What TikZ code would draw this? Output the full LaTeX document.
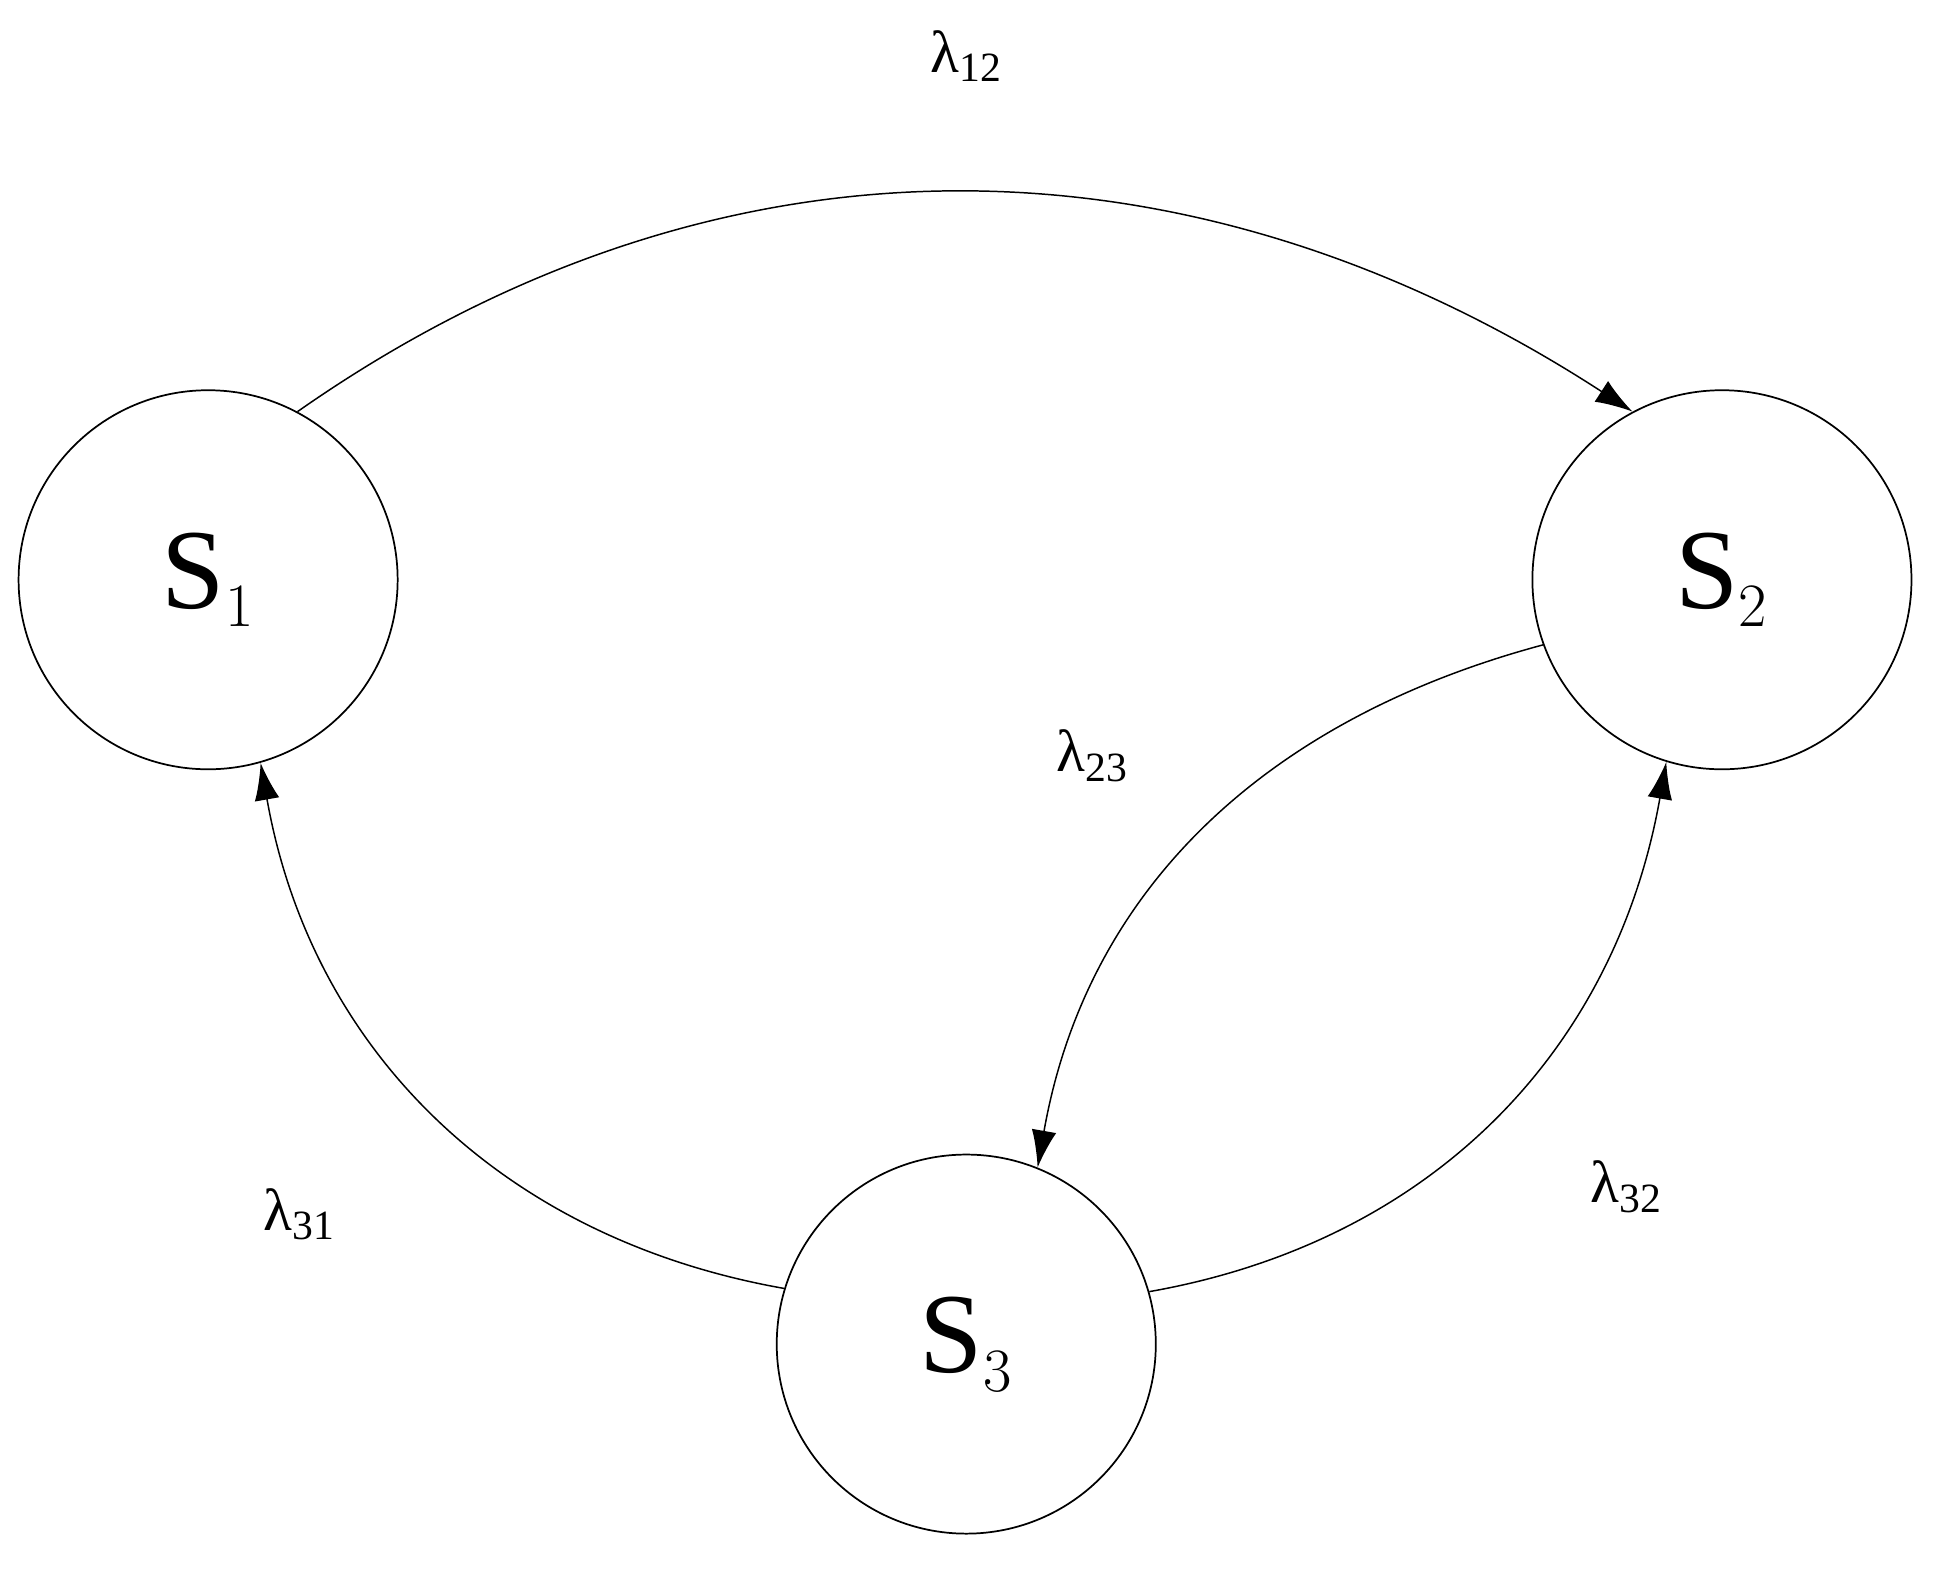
\documentclass[tikz,border=0pt]{standalone}
\usepackage{fontspec}
\setmainfont{Liberation Serif}
\usetikzlibrary{arrows.meta}
\begin{document}
\begin{tikzpicture}[x=0.5pt,y=-0.5pt,
  st/.style={circle,draw,line width=0.7pt,minimum size=153pt,inner sep=0pt,font=\fontsize{46}{50}\selectfont},
  ar/.style={line width=0.6pt,-{Latex[length=15pt,width=10pt]}},
  lb/.style={font=\fontsize{24}{28}\selectfont}]
\useasboundingbox (0,0) rectangle (1562,1278.6);
\node[st] (S1) at (168,468) {S$_1$};
\node[st] (S2) at (1390,468) {S$_2$};
\node[st] (S3) at (780,1085) {S$_3$};
\draw[ar] (S1.62) to[out=35,in=147,looseness=1.0] (S2.118);
\draw[ar] (S2.200) to[out=195,in=80,looseness=1.0] (S3.68);
\draw[ar] (S3.16) to[out=10,in=-100,looseness=1.0] (S2.253);
\draw[ar] (S3.163) to[out=170,in=-80,looseness=1.0] (S1.286);
\node[lb] (l12) at (780,45) {λ$_{\mathrm{12}}$};
\node[lb] (l23) at (882,610) {λ$_{\mathrm{23}}$};
\node[lb] (l31) at (242,980) {λ$_{\mathrm{31}}$};
\node[lb] (l32) at (1313,958) {λ$_{\mathrm{32}}$};
\end{tikzpicture}
\end{document}
